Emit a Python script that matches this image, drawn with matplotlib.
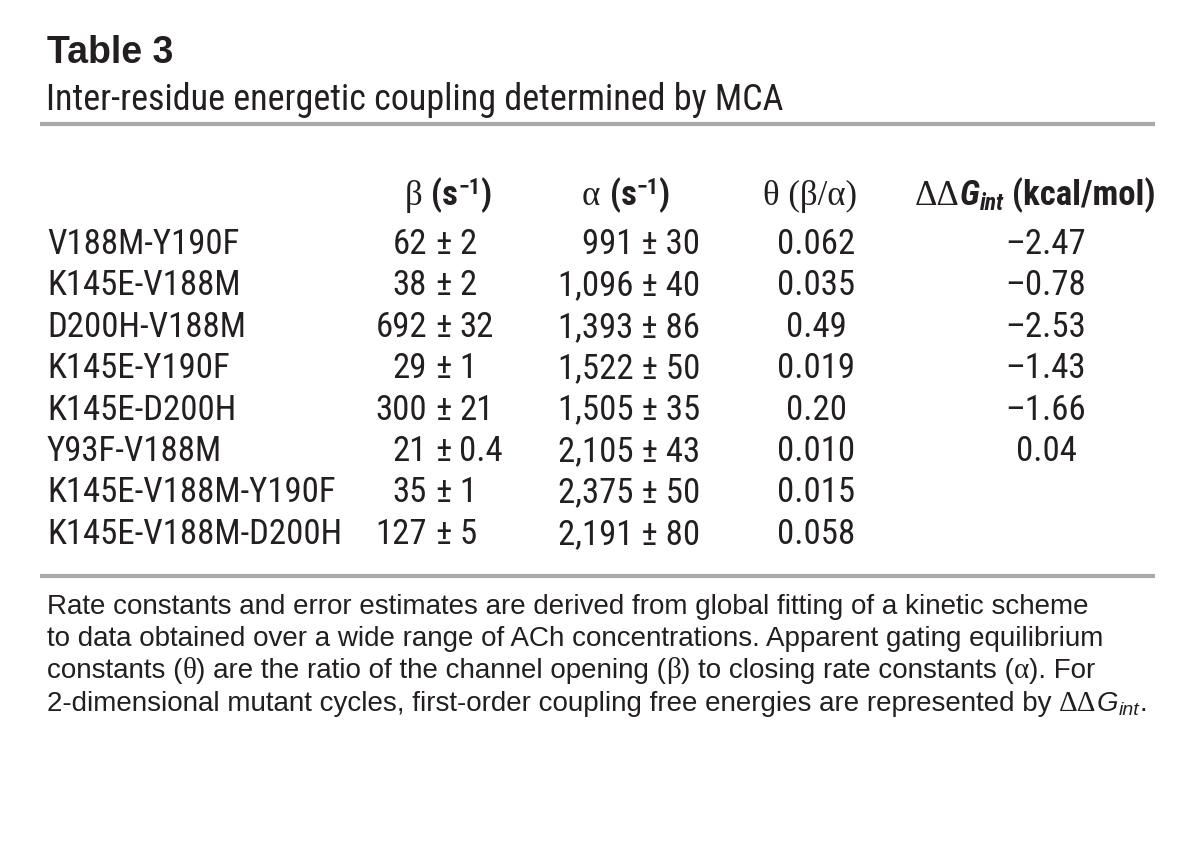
import matplotlib
matplotlib.use("Agg")
import matplotlib.pyplot as plt
from matplotlib import font_manager
from matplotlib.font_manager import FontProperties

# table content
title = "Table 3"
subtitle = "Inter-residue energetic coupling determined by MCA"
mutants = ["V188M-Y190F", "K145E-V188M", "D200H-V188M", "K145E-Y190F",
           "K145E-D200H", "Y93F-V188M", "K145E-V188M-Y190F", "K145E-V188M-D200H"]
beta_val = ["62", "38", "692", "29", "300", "21", "35", "127"]
beta_err = ["2", "2", "32", "1", "21", "0.4", "1", "5"]
alpha_val = ["991", "1,096", "1,393", "1,522", "1,505", "2,105", "2,375", "2,191"]
alpha_err = ["30", "40", "86", "50", "35", "43", "50", "80"]
theta = ["0.062", "0.035", "0.49", "0.019", "0.20", "0.010", "0.015", "0.058"]
ddg_int = ["\u20132.47", "\u20130.78", "\u20132.53", "\u20131.43", "\u20131.66", "0.04", "", ""]

footnote_1 = "Rate constants and error estimates are derived from global fitting of a kinetic scheme"
footnote_2 = "to data obtained over a wide range of ACh concentrations. Apparent gating equilibrium"

installed = {f.name for f in font_manager.fontManager.ttflist}
NARROW = "Liberation Sans"
for cand in ["Liberation Sans Narrow", "Roboto Condensed", "Open Sans Condensed"]:
    if cand in installed:
        NARROW = cand
        break
SANS = "Liberation Sans"
SERIF = "Liberation Serif" if "Liberation Serif" in installed else "DejaVu Serif"
INK = "#231f20"
RULE = "#a7a9ac"

fig = plt.figure(figsize=(12, 8.62), dpi=100)
ax = fig.add_axes([0, 0, 1, 1])
ax.set_xlim(0, 1200)
ax.set_ylim(862, 0)
ax.axis("off")
renderer = fig.canvas.get_renderer()


def fp(family, size, weight="normal", style="normal"):
    return FontProperties(family=[family, "DejaVu Sans"], size=size, weight=weight, style=style)


def advance(s, prop):
    # width of s including trailing spaces, in pixels
    w1, _, _ = renderer.get_text_width_height_descent(s + "l", prop, ismath=False)
    w2, _, _ = renderer.get_text_width_height_descent("l", prop, ismath=False)
    return w1 - w2


def runs(x, y, pieces, align="left"):
    # pieces: (text, props, dy)
    widths = [advance(t, p) for t, p, _ in pieces]
    total = sum(widths)
    if align == "center":
        x = x - total / 2
    elif align == "right":
        x = x - total
    for (t, p, dy), w in zip(pieces, widths):
        ax.text(x, y + dy, t, fontproperties=p, color=INK, ha="left", va="baseline")
        x += w


# title block
ax.text(47, 63, title, fontproperties=fp(SANS, 27, "bold"), color=INK, va="baseline")
ax.text(46, 110, subtitle, fontproperties=fp(NARROW, 26), color=INK, va="baseline")
ax.plot([40, 1155], [125, 125], color=RULE, lw=3, solid_capstyle="butt")

# column headers
hsz = 25
bold_n = fp(NARROW, hsz, "bold")
sup_n = fp(NARROW, 16, "bold")
serif = fp(SERIF, hsz)
hy = 205
runs(448, hy, [("\u03b2 ", serif, 0), ("(s", bold_n, 0), ("\u22121", sup_n, -11), (")", bold_n, 0)],
     align="center")
runs(626, hy, [("\u03b1 ", serif, 0), ("(s", bold_n, 0), ("\u22121", sup_n, -11), (")", bold_n, 0)],
     align="center")
runs(810, hy, [("\u03b8 (\u03b2/\u03b1)", serif, 0)], align="center")
runs(1035, hy, [("\u0394\u0394", serif, 0), ("G", fp(NARROW, hsz, "bold", "italic"), 0),
                ("int", fp(NARROW, 17, "bold", "italic"), 5), (" (kcal/mol)", bold_n, 0)],
     align="center")

# body rows
body = fp(NARROW, 25)
row_y0 = 254
row_step = 41.4
pm_x = 443
pm_w = advance("\u00b1", body)
gap = advance(" ", body)
for i, name in enumerate(mutants):
    y = row_y0 + i * row_step
    ax.text(47, y, name, fontproperties=body, color=INK, va="baseline")
    ax.text(pm_x - pm_w / 2 - gap, y, beta_val[i], fontproperties=body, color=INK,
            ha="right", va="baseline")
    ax.text(pm_x, y, "\u00b1", fontproperties=body, color=INK, ha="center", va="baseline")
    ax.text(pm_x + pm_w / 2 + gap, y, beta_err[i], fontproperties=body, color=INK,
            ha="left", va="baseline")
    ax.text(700, y, f"{alpha_val[i]} \u00b1 {alpha_err[i]}", fontproperties=body, color=INK,
            ha="right", va="baseline")
    ax.text(816, y, theta[i], fontproperties=body, color=INK, ha="center", va="baseline")
    if ddg_int[i]:
        ax.text(1046, y, ddg_int[i], fontproperties=body, color=INK, ha="center", va="baseline")

ax.plot([40, 1155], [577, 577], color=RULE, lw=3, solid_capstyle="butt")

# footnote
fsz = 20
foot = fp(SANS, fsz)
fserif = fp(SERIF, fsz + 1)
fy = [614, 646, 678, 711]
ax.text(47, fy[0], footnote_1, fontproperties=foot, color=INK, va="baseline")
ax.text(47, fy[1], footnote_2, fontproperties=foot, color=INK, va="baseline")
runs(47, fy[2], [("constants (", foot, 0), ("\u03b8", fserif, 0),
                 (") are the ratio of the channel opening (", foot, 0), ("\u03b2", fserif, 0),
                 (") to closing rate constants (", foot, 0), ("\u03b1", fserif, 0),
                 ("). For", foot, 0)])
runs(47, fy[3], [("2-dimensional mutant cycles, first-order coupling free energies are represented by ", foot, 0),
                 ("\u0394\u0394", fserif, 0), ("G", fp(SANS, fsz, style="italic"), 0),
                 ("int", fp(SANS, 14, style="italic"), 4), (".", foot, 0)])

fig.savefig("out.png", dpi=100)
